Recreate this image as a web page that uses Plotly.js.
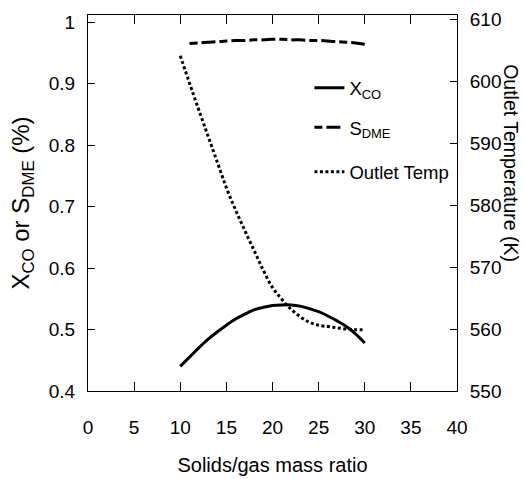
<!DOCTYPE html>
<html>
<head>
<meta charset="utf-8">
<script src="https://cdn.plot.ly/plotly-3.0.1.min.js"></script>
<style>html,body{margin:0;padding:0;background:#fff;}#chart{width:524px;height:479px;}</style>
</head>
<body>
<div id="chart"></div>
<script>
// Solids/gas mass ratio
const ratio = [10,11,12,13,14,15,16,17,18,19,20,21,22,23,24,25,26,27,28,29,30];
// CO conversion (fraction)
const xCO = [0.440,0.455,0.470,0.484,0.496,0.507,0.517,0.525,0.532,0.536,0.539,0.540,0.540,0.538,0.534,0.529,0.522,0.514,0.505,0.493,0.478];
// DME selectivity
const ratioS = [11,12,13,14,15,16,17,18,19,20,21,22,23,24,25,26,27,28,29,30];
const sDME = [0.965,0.966,0.967,0.968,0.969,0.970,0.970,0.971,0.971,0.972,0.972,0.971,0.971,0.970,0.970,0.969,0.968,0.967,0.966,0.964];
// Outlet temperature (K)
const tempOut = [604.1,599.7,595.4,591.2,587.0,582.8,579.2,575.9,572.7,569.5,566.7,564.8,563.2,562.0,561.1,560.6,560.4,560.2,560.0,559.9,559.9];

const xTicks = [0,5,10,15,20,25,30,35,40];
const yTicks = [0.4,0.5,0.6,0.7,0.8,0.9,1];
const yTickText = ['0.4','0.5','0.6','0.7','0.8','0.9','1'];
const y2Ticks = [550,560,570,580,590,600,610];

const FONT = '"Liberation Sans", Arial, sans-serif';

const traces = [
  {x: ratio, y: xCO, name: 'X<sub>CO</sub>', legend: 'legend', mode: 'lines', line: {color: '#000', width: 3, shape: 'spline'}},
  {x: ratioS, y: sDME, name: 'S<sub>DME</sub>', legend: 'legend2', mode: 'lines', line: {color: '#000', width: 3, dash: '8px,4px,14px,4px', shape: 'spline'}},
  {x: ratio, y: tempOut, name: 'Outlet Temp', legend: 'legend3', yaxis: 'y2', mode: 'lines', line: {color: '#000', width: 3, dash: '3px,2.5px', shape: 'spline'}}
];

const legBase = {x: 0.60, xanchor: 'left', yanchor: 'middle', bgcolor: 'rgba(0,0,0,0)', borderwidth: 0, font: {size: 18.5, family: FONT, color: '#000'}};

const layout = {
  width: 524, height: 479,
  margin: {l: 88, r: 67, t: 15, b: 88},
  paper_bgcolor: '#fff', plot_bgcolor: '#fff',
  font: {family: FONT, color: '#000', size: 19},
  showlegend: true,
  legend: Object.assign({}, legBase, {y: 0.805}),
  legend2: Object.assign({}, legBase, {y: 0.70}),
  legend3: Object.assign({}, legBase, {y: 0.582}),
  xaxis: {
    range: [0, 40], tickvals: xTicks, ticktext: xTicks.map(String),
    ticks: 'inside', ticklen: 9, tickwidth: 1, tickcolor: '#000',
    showline: true, linecolor: '#000', linewidth: 1, mirror: 'ticks',
    showgrid: false, zeroline: false,
    tickfont: {size: 19, family: FONT}, ticklabelstandoff: 19,
    title: {text: 'Solids/gas mass ratio', font: {size: 20, family: FONT}, standoff: 21}
  },
  yaxis: {
    range: [0.4, 1.0114], tickvals: yTicks, ticktext: yTickText,
    ticks: 'inside', ticklen: 7, tickwidth: 1, tickcolor: '#000',
    showline: true, linecolor: '#000', linewidth: 1,
    showgrid: false, zeroline: false,
    tickfont: {size: 19, family: FONT}, ticklabelstandoff: 8,
    title: {text: 'X<sub>CO</sub> or S<sub>DME</sub> (%)', font: {size: 24, family: FONT}, standoff: 12}
  },
  yaxis2: {
    overlaying: 'y', side: 'right',
    range: [550, 610.68], tickvals: y2Ticks, ticktext: y2Ticks.map(String),
    ticks: 'inside', ticklen: 7, tickwidth: 1, tickcolor: '#000',
    showline: true, linecolor: '#000', linewidth: 1,
    showgrid: false, zeroline: false,
    tickfont: {size: 19, family: FONT}, ticklabelstandoff: 8
  },
  annotations: [{
    text: 'Outlet Temperature (K)', textangle: 90,
    xref: 'paper', yref: 'paper', x: 1, xshift: 54, y: 0.606,
    xanchor: 'center', yanchor: 'middle', showarrow: false,
    font: {size: 19.5, family: FONT, color: '#000'}
  }]
};

Plotly.newPlot('chart', traces, layout, {displayModeBar: false, staticPlot: true});
</script>
</body>
</html>
